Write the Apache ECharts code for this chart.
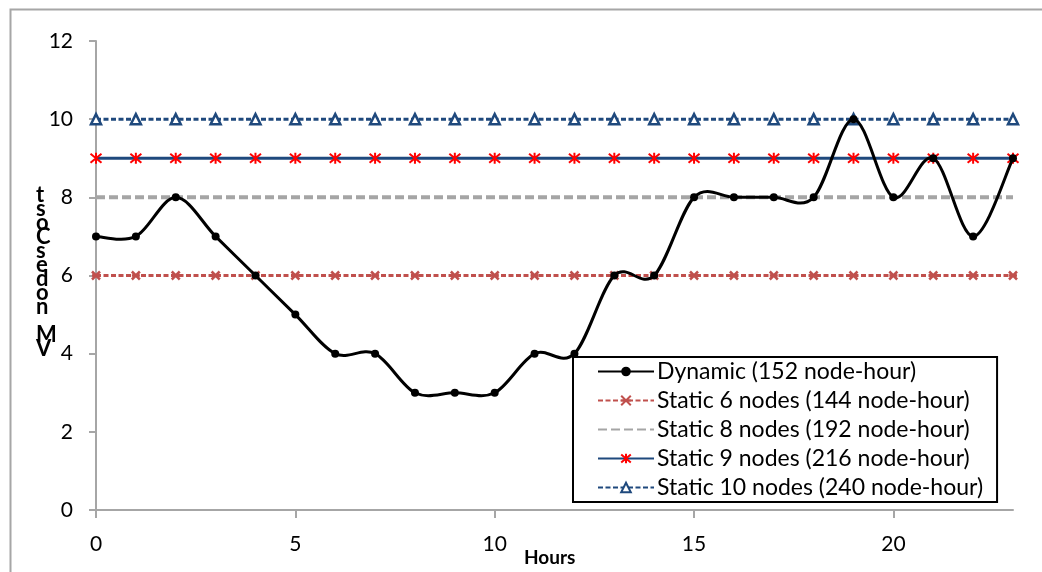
<!DOCTYPE html>
<html>
<head>
<meta charset="utf-8">
<script src="https://cdn.jsdelivr.net/npm/echarts@6/dist/echarts.min.js"></script>
<style>
  html, body { margin: 0; padding: 0; background: #fff; }
  #chart { width: 1042px; height: 572px; }
</style>
</head>
<body>
<div id="chart"></div>
<script>
// Hour of day
var hours = [0, 1, 2, 3, 4, 5, 6, 7, 8, 9, 10, 11, 12, 13, 14, 15, 16, 17, 18, 19, 20, 21, 22, 23];
// Number of VM nodes used per hour under dynamic provisioning
var dynamicNodes = [7, 7, 8, 7, 6, 5, 4, 4, 3, 3, 3, 4, 4, 6, 6, 8, 8, 8, 8, 10, 8, 9, 7, 9];
// Fixed node counts for the static configurations
var staticLevels = [6, 8, 9, 10];
var seriesNames = [
  'Dynamic (152 node-hour)',
  'Static 6 nodes (144 node-hour)',
  'Static 8 nodes (192 node-hour)',
  'Static 9 nodes (216 node-hour)',
  'Static 10 nodes (240 node-hour)'
];
var xTicks = [0, 5, 10, 15, 20];

var FONT = 'Lato, "Open Sans", sans-serif';

function pairs(values) {
  return hours.map(function (h, i) { return [h, values[i]]; });
}
function flat(level) {
  return hours.map(function (h) { return [h, level]; });
}

var crossPath = 'path://M0,0 L10,10 M10,0 L0,10 M0,5 L10,5';
var asteriskPath = 'path://M0,0 L10,10 M10,0 L0,10 M5,-1 L5,11';

// Smoothed curve through the dynamic points (cardinal spline, tension 1/6)
function renderDynamicCurve(params, api) {
  var pts = hours.map(function (h, i) { return api.coord([h, dynamicNodes[i]]); });
  var d = 'M' + pts[0][0] + ',' + pts[0][1];
  for (var i = 0; i < pts.length - 1; i++) {
    var p0 = pts[i - 1] || pts[i];
    var p1 = pts[i];
    var p2 = pts[i + 1];
    var p3 = pts[i + 2] || pts[i + 1];
    var c1x = p1[0] + (p2[0] - p0[0]) / 6, c1y = p1[1] + (p2[1] - p0[1]) / 6;
    var c2x = p2[0] - (p3[0] - p1[0]) / 6, c2y = p2[1] - (p3[1] - p1[1]) / 6;
    d += ' C' + c1x + ',' + c1y + ' ' + c2x + ',' + c2y + ' ' + p2[0] + ',' + p2[1];
  }
  return {
    type: 'path',
    shape: { pathData: d },
    style: { fill: 'none', stroke: '#000', lineWidth: 3 }
  };
}

var chart = echarts.init(document.getElementById('chart'));
chart.setOption({
  animation: false,
  backgroundColor: '#ffffff',
  textStyle: { fontFamily: FONT },
  grid: { left: 96, top: 41, right: 29, bottom: 62 },
  xAxis: {
    type: 'value',
    min: 0, max: 23, interval: 5,
    axisLine: { lineStyle: { color: '#a6a6a6', width: 2 } },
    axisTick: { show: true, length: 8, lineStyle: { color: '#a6a6a6', width: 2 }, customValues: xTicks },
    axisLabel: { color: '#000', fontSize: 21, margin: 24, fontFamily: FONT, customValues: xTicks },
    splitLine: { show: false }
  },
  yAxis: {
    type: 'value',
    min: 0, max: 12, interval: 2,
    axisLine: { show: true, lineStyle: { color: '#a6a6a6', width: 2 } },
    axisTick: { show: true, length: 7, lineStyle: { color: '#a6a6a6', width: 2 } },
    axisLabel: { color: '#000', fontSize: 21, margin: 23, fontFamily: FONT },
    splitLine: { show: false }
  },
  legend: {
    orient: 'vertical',
    left: 573, top: 357,
    padding: [3, 14, 3, 24],
    itemGap: 6,
    itemWidth: 56, itemHeight: 12,
    backgroundColor: '#fff',
    borderColor: '#000', borderWidth: 2,
    textStyle: { color: '#000', fontSize: 23, lineHeight: 22, fontFamily: FONT, padding: [0, 0, 0, -2] },
    data: [
      { name: seriesNames[0], lineStyle: { opacity: 1 } },
      seriesNames[1],
      { name: seriesNames[2], itemStyle: { opacity: 0 } },
      seriesNames[3],
      seriesNames[4]
    ]
  },
  graphic: [
    {
      type: 'rect', silent: true, z: -1,
      shape: { x: 10.5, y: 9.5, width: 1040, height: 570 },
      style: { fill: 'none', stroke: '#a6a6a6', lineWidth: 2 }
    },
    {
      type: 'text', left: 524, top: 548,
      style: { text: 'Hours', font: 'bold 19px ' + FONT, fill: '#000' }
    },
    {
      type: 'text', left: 36, top: 184,
      style: {
        text: 't\ns\no\nC\ns\ne\nd\no\nn\n\nM\nV',
        font: 'bold 22px ' + FONT, fill: '#000', lineHeight: 14, align: 'center'
      }
    }
  ],
  series: [
    {
      name: seriesNames[0], type: 'line', data: pairs(dynamicNodes),
      symbol: 'circle', symbolSize: 8, z: 7,
      lineStyle: { color: '#000', width: 3, opacity: 0 },
      itemStyle: { color: '#000' }
    },
    {
      name: 'dynamicCurve', type: 'custom', data: [[0, 0]], z: 6,
      renderItem: renderDynamicCurve, silent: true
    },
    {
      name: seriesNames[1], type: 'line', data: flat(staticLevels[0]),
      symbol: crossPath, symbolSize: 8,
      lineStyle: { color: '#c0504d', width: 3, type: [5, 2.5] },
      itemStyle: { color: '#c0504d', borderColor: '#c0504d', borderWidth: 2.5 }
    },
    {
      name: seriesNames[2], type: 'line', data: flat(staticLevels[1]),
      symbol: 'none',
      lineStyle: { color: '#a5a5a5', width: 4, type: [9, 4] },
      itemStyle: { color: '#a5a5a5' }
    },
    {
      name: seriesNames[3], type: 'line', data: flat(staticLevels[2]),
      symbol: asteriskPath, symbolSize: 11,
      lineStyle: { color: '#1f497d', width: 3 },
      itemStyle: { color: '#ff0000', borderColor: '#ff0000', borderWidth: 2 }
    },
    {
      name: seriesNames[4], type: 'line', data: flat(staticLevels[3]),
      symbol: 'triangle', symbolSize: 10,
      lineStyle: { color: '#1f497d', width: 3, type: [5, 2.5] },
      itemStyle: { color: '#ffffff', borderColor: '#1f497d', borderWidth: 2.5 }
    }
  ]
});
</script>
</body>
</html>
